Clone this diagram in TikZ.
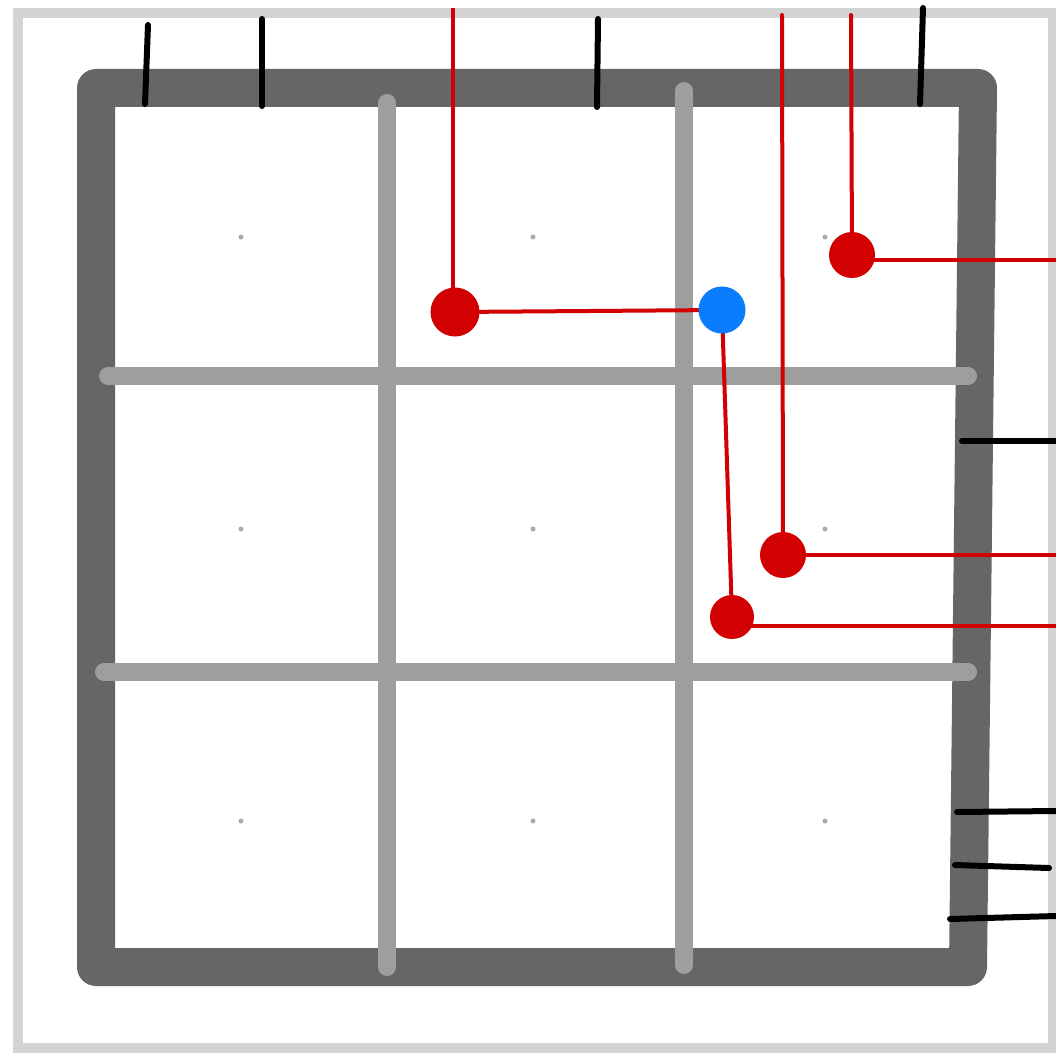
\documentclass[tikz,border=0pt]{standalone}
\definecolor{edgegray}{HTML}{D4D4D4}
\definecolor{framedark}{HTML}{666666}
\definecolor{gridgray}{HTML}{9E9E9E}
\definecolor{markgray}{HTML}{AAAAAA}
\definecolor{wirered}{HTML}{D20000}
\definecolor{padblue}{HTML}{0A7CFF}
\pgfdeclarelayer{board}
\pgfdeclarelayer{wires}
\pgfsetlayers{board,wires,main}
\tikzset{
  outerframe/.style={draw=edgegray, line width=10pt},
  mainframe/.style={draw=framedark, line width=38pt, line join=round, line cap=round},
  gridline/.style={draw=gridgray, line width=18pt, line cap=round},
  tickmark/.style={draw=black, line width=6pt, line cap=round},
  cellmark/.style={circle, fill=markgray, inner sep=0pt, minimum size=5pt},
  wire/.style={draw=wirered, line width=4pt},
  reddot/.style={circle, fill=wirered, inner sep=0pt},
  bluedot/.style={circle, fill=padblue, inner sep=0pt, minimum size=47pt}
}
\begin{document}
\begin{tikzpicture}[x=1pt, y=-1pt]
\useasboundingbox (0,0) rectangle (1056,1054);

\begin{pgfonlayer}{board}
\fill[white] (0,0) rectangle (1056,1054);
% light outer border
\draw[outerframe] (18,13) rectangle (1053,1048);
% thick board frame
\draw[mainframe] (96,88) -- (978,88) -- (968,967) -- (96,967) -- cycle;
% inner grid
\draw[gridline] (387,103) -- (387,967);
\draw[gridline] (684,91) -- (684,965);
\draw[gridline] (108,376) -- (968,376);
\draw[gridline] (104,672) -- (968,672);
% black ticks on the frame
\draw[tickmark] (148,25) -- (145,104);
\draw[tickmark] (262,19) -- (262,106);
\draw[tickmark] (598,19) -- (597,107);
\draw[tickmark] (923,8) -- (920,104);
\draw[tickmark] (962,441) -- (1056,441);
\draw[tickmark] (957,812) -- (1056,811);
\draw[tickmark] (955,865) -- (1049,868);
\draw[tickmark] (950,919) -- (1056,916);
\end{pgfonlayer}

% cell centre marks
\foreach \cx/\cy [count=\i] in {241/237,533/237,825/237,241/529,533/529,825/529,241/821,533/821,825/821}
  \node[cellmark] (c\i) at (\cx,\cy) {};

% wire end points
\coordinate (ta) at (453,8);
\coordinate (tb) at (782,15);
\coordinate (tc) at (851,15);
\coordinate (ra) at (1056,260);
\coordinate (rb) at (1056,555);
\coordinate (rc) at (1056,626);

% pads
\node[reddot, minimum size=49pt] (pa) at (455,312) {};
\node[bluedot] (pb) at (722,310) {};
\node[reddot, minimum size=44pt] (pc) at (732,617) {};
\node[reddot, minimum size=46pt] (pd) at (783,555) {};
\node[reddot, minimum size=46pt] (pe) at (852,255) {};

% red wires, kept under the pads
\begin{pgfonlayer}{wires}
\draw[wire] (ta) -- (ta |- pa.center);
\draw[wire] (pa.center) -- (pb.center);
\draw[wire] (pb.center) -- (pc.center);
\draw[wire] (rc -| pc.center) -- (rc);
\draw[wire, line cap=round] (tb) -- (pd.center);
\draw[wire] (pd.center) -- (rb);
\draw[wire, line cap=round] (tc) -- (pe.center);
\draw[wire] (ra -| pe.center) -- (ra);
\end{pgfonlayer}
\end{tikzpicture}
\end{document}
